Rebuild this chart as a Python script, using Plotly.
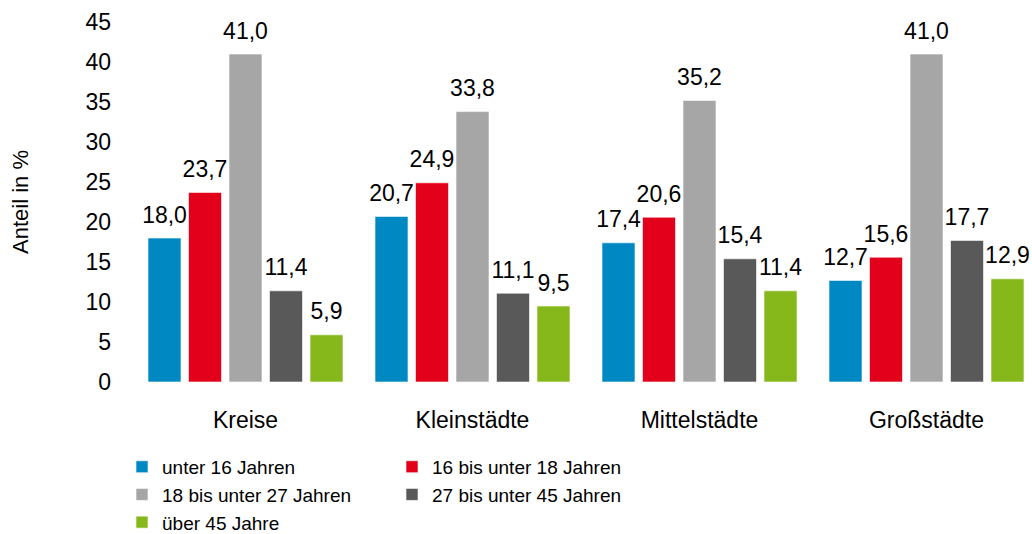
import plotly.graph_objects as go

categories = ["Kreise", "Kleinstädte", "Mittelstädte", "Großstädte"]
series_names = [
    "unter 16 Jahren",
    "16 bis unter 18 Jahren",
    "18 bis unter 27 Jahren",
    "27 bis unter 45 Jahren",
    "über 45 Jahre",
]
unter_16 = [18.0, 20.7, 17.4, 12.7]
von_16_bis_18 = [23.7, 24.9, 20.6, 15.6]
von_18_bis_27 = [41.0, 33.8, 35.2, 41.0]
von_27_bis_45 = [11.4, 11.1, 15.4, 17.7]
ueber_45 = [5.9, 9.5, 11.4, 12.9]
y_ticks = [0, 5, 10, 15, 20, 25, 30, 35, 40, 45]

colors = ["#0088c2", "#e2001a", "#a6a6a6", "#595959", "#86b81c"]
font = "Liberation Sans, Arial, sans-serif"
all_values = [unter_16, von_16_bis_18, von_18_bis_27, von_27_bis_45, ueber_45]
# left legend column gets series 1, 3, 5; right column gets 2, 4
legend_ids = ["legend", "legend2", "legend", "legend2", "legend"]

fig = go.Figure()
for name, vals, col, lg in zip(series_names, all_values, colors, legend_ids):
    fig.add_trace(go.Bar(
        x=categories, y=vals, name=name, legend=lg,
        marker=dict(color=col, line=dict(color="rgba(255,255,255,0.6)", width=1)),
    ))

# value labels, grouped like the bars, lifted a bit above the bar tops
for name, vals in zip(series_names, all_values):
    fig.add_trace(go.Scatter(
        x=categories, y=vals, mode="markers+text", showlegend=False,
        marker=dict(size=14, opacity=0),
        text=[f"{v:.1f}".replace(".", ",") for v in vals],
        textposition="top center",
        textfont=dict(size=23, color="#000000"),
        cliponaxis=False, hoverinfo="skip",
    ))

legend_style = dict(orientation="v", xanchor="left", y=-0.183, yanchor="top",
                    font=dict(size=19), itemwidth=30, tracegroupgap=0,
                    bgcolor="rgba(0,0,0,0)")

fig.update_layout(
    width=1032, height=534,
    margin=dict(l=132, r=0, t=22, b=152, autoexpand=False),
    plot_bgcolor="white", paper_bgcolor="white",
    font=dict(family=font, size=23, color="#000000"),
    barmode="group", bargap=0.108, bargroupgap=0.185,
    scattermode="group",
    showlegend=True,
    legend=dict(x=-0.0111, **legend_style),
    legend2=dict(x=0.2889, **legend_style),
)
fig.update_xaxes(range=[-0.5, -0.5 + 900 / 227], showline=False, showgrid=False,
                 ticks="", ticklabelstandoff=22, automargin=False)
fig.update_yaxes(range=[0, 45], tickvals=y_ticks, showgrid=False, zeroline=False,
                 showline=False, ticks="", ticklabelstandoff=20, automargin=False,
                 title=dict(text="Anteil in %", font=dict(size=22), standoff=50))

# drop the default 8px body margin so the figure fills the window exactly
fig.write_html("out.html",
               config={"displayModeBar": False},
               post_script="document.body.style.margin='0';"
                           "document.body.style.overflow='hidden';")
